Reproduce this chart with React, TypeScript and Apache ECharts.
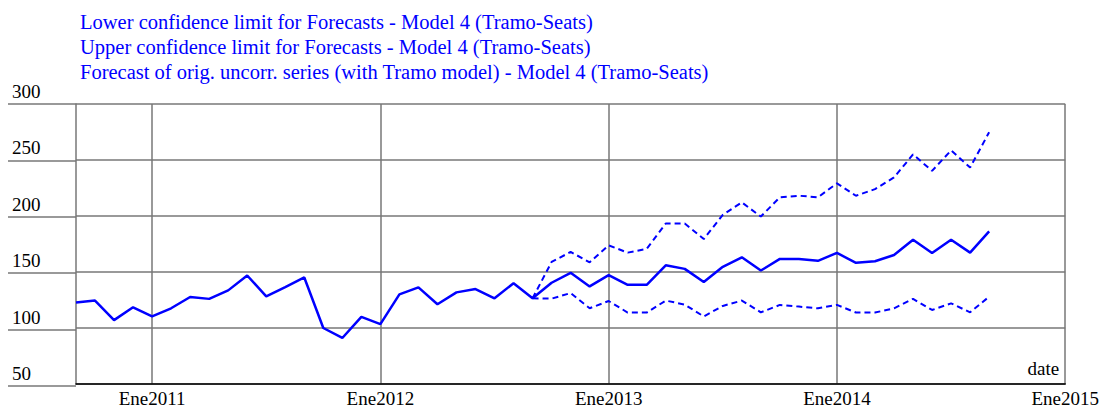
import React, { useEffect, useRef } from "react";
import * as echarts from "echarts";

const MONTHS = ["Ene", "Feb", "Mar", "Abr", "May", "Jun", "Jul", "Ago", "Sep", "Oct", "Nov", "Dic"];

// Monthly categories Sep 2010 .. Ene 2015
const categories: string[] = (() => {
  const out: string[] = [];
  let y = 2010;
  let m = 8;
  while (y < 2015 || (y === 2015 && m === 0)) {
    out.push(MONTHS[m] + y);
    m++;
    if (m === 12) { m = 0; y++; }
  }
  return out;
})();

const yTicks = [50, 100, 150, 200, 250, 300];

// Sep 2010 .. Sep 2014
const forecastSeries = [
  122.7, 124.5, 107, 118.5,
  110.3, 117.6, 127.7, 126, 133.6, 146.9, 128.3, 136.5, 145.1, 100, 91.1, 110,
  103.5, 130, 136.3, 121.2, 131.8, 134.8, 126.5, 140, 126.5, 140.4, 149.3, 137.1,
  147.2, 138.6, 138.6, 156, 152.8, 141, 154.6, 163.1, 151.3, 161.7, 161.7, 160,
  167, 158.2, 159.6, 165.2, 178.8, 167, 178.8, 167.3, 186.2,
];

// Sep 2012 .. Sep 2014
const upperLimit = [
  126.5, 159, 167.9, 158.7,
  173.8, 167.3, 170.6, 193.3, 193.3, 179.4, 201, 212.2, 199.5, 216.7, 218.1, 216.7,
  229.1, 218.1, 224, 234.4, 255, 240.3, 258.6, 243.3, 274.8,
];

const lowerLimit = [
  126.5, 126.2, 131.2, 117.6,
  124.1, 113.8, 113.8, 124.5, 120.9, 110.3, 119.7, 124.5, 114, 120.6, 119.1, 117.6,
  120.6, 113.8, 113.8, 117.6, 126, 116.1, 122, 114, 128,
];

const forecastStartIndex = categories.indexOf("Sep2012");

const seriesNames = [
  "Lower confidence limit for Forecasts - Model 4 (Tramo-Seats)",
  "Upper confidence limit for Forecasts - Model 4 (Tramo-Seats)",
  "Forecast of orig. uncorr. series (with Tramo model) - Model 4 (Tramo-Seats)",
];

const FONT = "'Liberation Serif', 'Times New Roman', serif";
const BLUE = "#0000ff";
const GRID_GRAY = "#777777";

function pad(values: number[], start: number): (number | null)[] {
  const arr: (number | null)[] = categories.map(() => null);
  values.forEach((v, i) => { arr[start + i] = v; });
  return arr;
}

export default function App() {
  const ref = useRef<HTMLDivElement>(null);
  useEffect(() => {
    if (!ref.current) return;
    const chart = echarts.init(ref.current, undefined, { renderer: "svg" });
    const isJan = (_i: number, v: string) => String(v).startsWith("Ene");
    chart.setOption({
      animation: false,
      backgroundColor: "#ffffff",
      textStyle: { fontFamily: FONT },
      legend: {
        orient: "vertical",
        left: 75,
        top: 11,
        padding: 0,
        itemWidth: 0,
        itemHeight: 20,
        itemGap: 4,
        icon: "none",
        data: seriesNames,
        textStyle: { color: BLUE, fontFamily: FONT, fontSize: 20.5 },
        selectedMode: false,
      },
      grid: [
        { left: 76, right: 36, top: 104, bottom: 22, containLabel: false },
        { left: 8, width: 68, top: 104, bottom: 22, containLabel: false },
      ],
      xAxis: [
        {
          type: "category",
          gridIndex: 0,
          data: categories,
          boundaryGap: false,
          name: "date",
          nameLocation: "end",
          nameGap: -6,
          nameTextStyle: {
            color: "#000",
            fontFamily: FONT,
            fontSize: 19,
            align: "right",
            verticalAlign: "bottom",
            padding: [0, 0, 6, 0],
          },
          axisLine: { show: true, lineStyle: { color: "#000", width: 1.5 } },
          axisTick: { show: false },
          axisLabel: {
            interval: isJan,
            color: "#000",
            fontFamily: FONT,
            fontSize: 19,
            margin: 5,
            showMaxLabel: true,
          },
          splitLine: {
            show: true,
            interval: isJan,
            lineStyle: { color: GRID_GRAY, width: 1.5 },
          },
        },
        {
          type: "value",
          gridIndex: 1,
          show: false,
          min: 0,
          max: 1,
        },
      ],
      yAxis: [
        {
          type: "value",
          gridIndex: 0,
          min: yTicks[0],
          max: yTicks[yTicks.length - 1],
          interval: 50,
          axisLine: { show: true, lineStyle: { color: GRID_GRAY, width: 1.5 } },
          axisTick: { show: false },
          axisLabel: { show: false },
          splitLine: { show: true, lineStyle: { color: GRID_GRAY, width: 1.5 } },
        },
        {
          type: "value",
          gridIndex: 1,
          min: yTicks[0],
          max: yTicks[yTicks.length - 1],
          interval: 50,
          axisLine: { show: false },
          axisTick: { show: false },
          axisLabel: {
            show: true,
            inside: true,
            align: "left",
            verticalAlign: "bottom",
            margin: 4,
            padding: [0, 0, 3, 0],
            color: "#000",
            fontFamily: FONT,
            fontSize: 19,
          },
          splitLine: { show: true, lineStyle: { color: GRID_GRAY, width: 1.5 } },
        },
      ],
      series: [
        {
          name: seriesNames[0],
          type: "line",
          data: pad(lowerLimit, forecastStartIndex),
          showSymbol: false,
          symbol: "none",
          lineStyle: { color: BLUE, width: 2, type: [6, 4] },
          itemStyle: { color: BLUE },
          connectNulls: false,
        },
        {
          name: seriesNames[1],
          type: "line",
          data: pad(upperLimit, forecastStartIndex),
          showSymbol: false,
          symbol: "none",
          lineStyle: { color: BLUE, width: 2, type: [6, 4] },
          itemStyle: { color: BLUE },
          connectNulls: false,
        },
        {
          name: seriesNames[2],
          type: "line",
          data: pad(forecastSeries, 0),
          showSymbol: false,
          symbol: "none",
          lineStyle: { color: BLUE, width: 2.5 },
          itemStyle: { color: BLUE },
          z: 3,
        },
      ],
    });
    return () => chart.dispose();
  }, []);
  return (
    <div
      ref={ref}
      style={{ position: "fixed", left: 0, top: 0, width: 1102, height: 408, background: "#fff" }}
    />
  );
}
